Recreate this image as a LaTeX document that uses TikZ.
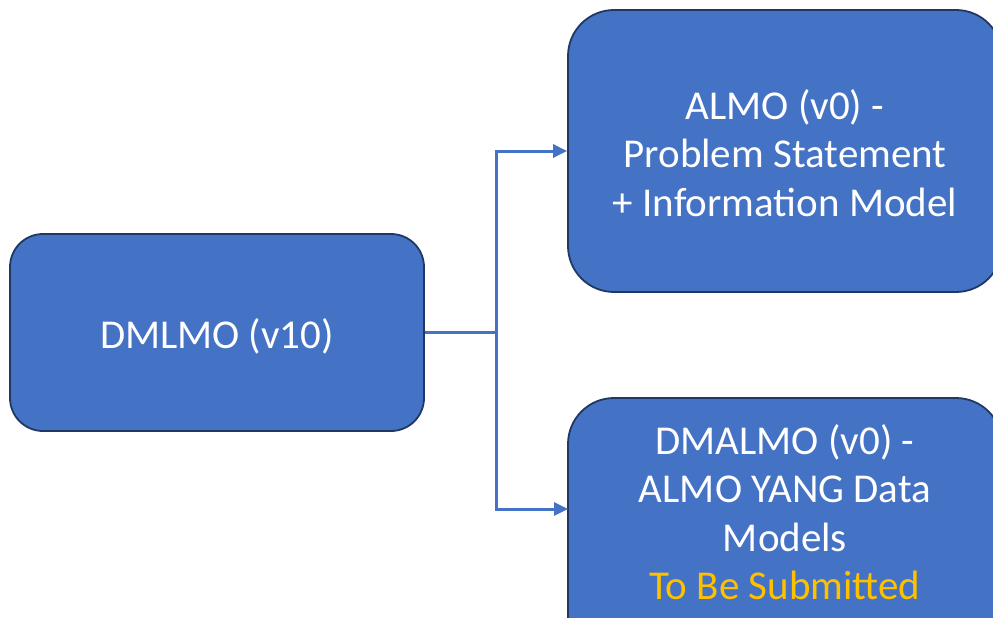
\documentclass[tikz,border=0pt]{standalone}
\usepackage{fontspec}
\setmainfont{Carlito}
\usetikzlibrary{arrows.meta}
\definecolor{boxfill}{HTML}{4472C4}
\definecolor{boxedge}{HTML}{203864}
\definecolor{linkc}{HTML}{4472C4}
\definecolor{todo}{HTML}{FFC000}
\tikzset{
  box/.style={draw=boxedge, line width=1.8pt, fill=boxfill, text=white, align=center,
    font=\fontsize{41}{48.5}\selectfont, inner sep=0pt},
  txt/.style={text=white, align=center, font=\fontsize{41}{48.5}\selectfont, inner sep=0pt},
  link/.style={draw=linkc, line width=3pt},
  arr/.style={link, -{Triangle[length=14pt,width=13pt]}}
}
\begin{document}
\begin{tikzpicture}[x=1pt,y=-1pt]
\useasboundingbox (0,0) rectangle (993,618);
\clip (0,0) rectangle (993,618);
\node[box, minimum width=414pt, minimum height=197pt, rounded corners=33pt] (b0) at (217,332.5) {};
\node[txt] (t0) at (217,336) {DMLMO (v10)};
\node[box, minimum width=434pt, minimum height=282pt, rounded corners=46pt] (b1) at (785,151) {};
\node[txt] (t1) at (785,153) {ALMO (v0) -\\Problem Statement\\+ Information Model};
\node[box, minimum width=434pt, minimum height=282pt, rounded corners=46pt] (b2) at (785,539) {};
\node[txt] (t2) at (785,512) {DMALMO (v0) -\\ALMO YANG Data\\Models\\\textcolor{todo}{To Be Submitted}};
\coordinate (j) at (496,332.5);
\coordinate (e2) at (568,509);
\draw[link] (b0.east) -- (j);
\draw[arr] (j) |- (b1.west);
\draw[arr] (j) |- (e2);
\end{tikzpicture}
\end{document}
